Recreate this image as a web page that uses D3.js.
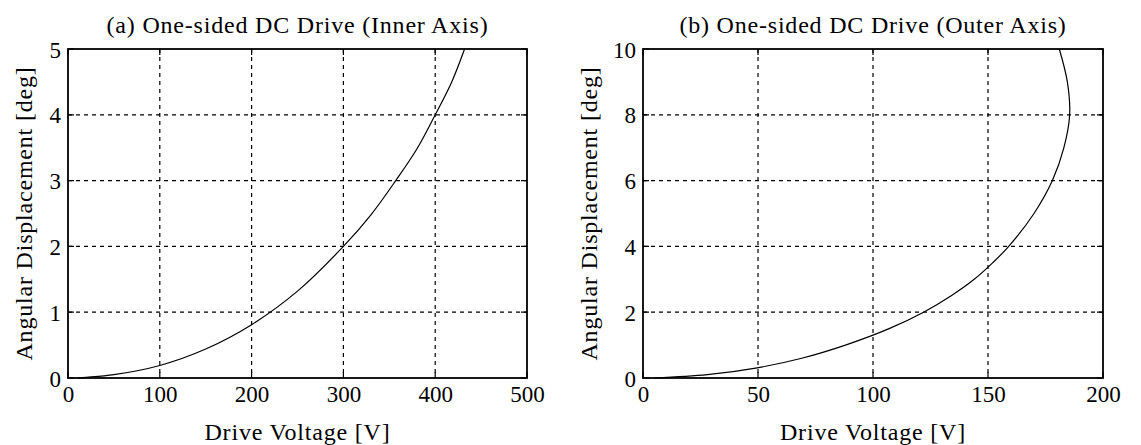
<!DOCTYPE html>
<meta charset="utf-8">
<html>
<script src="https://d3js.org/d3.v7.min.js"></script>
<style>
    body { margin: 0; background: #fff; }
    svg text { fill: #000; }
</style>
<body>
<div id="chart"></div>
<script>
    // (a) inner axis: voltage read at each angle
    var innerVoltage = [10, 20, 50, 100, 150, 200, 250, 300, 330, 357, 380, 400, 418, 432];
    var innerAngle   = [0, 0.01, 0.05, 0.19, 0.44, 0.81, 1.32, 2.0, 2.48, 3.0, 3.48, 4.0, 4.5, 5.0];

    // (b) outer axis: curve turns back past pull-in
    var outerVoltage = [5, 28, 49, 69, 88, 107, 122, 134, 144, 152, 159, 170, 178, 183, 185.5, 184.5, 181];
    var outerAngle   = [0, 0.1, 0.3, 0.6, 1.0, 1.5, 2.0, 2.5, 3.0, 3.5, 4.0, 5.0, 6.0, 7.0, 8.0, 9.0, 10.0];

    var innerXTicks = [0, 100, 200, 300, 400, 500];
    var innerYTicks = [0, 1, 2, 3, 4, 5];
    var outerXTicks = [0, 50, 100, 150, 200];
    var outerYTicks = [0, 2, 4, 6, 8, 10];

    var W = 1141, H = 445;
    var serif = "Liberation Serif, DejaVu Serif, serif";
    var svg = d3.select("#chart").append("svg")
        .attr("width", W)
        .attr("height", H);

    function panel(opts) {
        var x = d3.scaleLinear().domain(opts.xDomain).range([opts.left, opts.right]);
        var y = d3.scaleLinear().domain(opts.yDomain).range([opts.bottom, opts.top]);
        var g = svg.append("g");

        // dashed grid
        g.selectAll(".gx").data(opts.xTicks.slice(1, -1)).enter().append("line")
            .attr("x1", function (d) { return x(d); }).attr("x2", function (d) { return x(d); })
            .attr("y1", opts.top).attr("y2", opts.bottom)
            .attr("stroke", "#000").attr("stroke-width", 1.2)
            .attr("stroke-dasharray", "4,4");
        g.selectAll(".gy").data(opts.yTicks.slice(1, -1)).enter().append("line")
            .attr("y1", function (d) { return y(d); }).attr("y2", function (d) { return y(d); })
            .attr("x1", opts.left).attr("x2", opts.right)
            .attr("stroke", "#000").attr("stroke-width", 1.2)
            .attr("stroke-dasharray", "4,4");

        // tick labels via axes
        var ax = g.append("g")
            .attr("transform", "translate(0," + opts.bottom + ")")
            .call(d3.axisBottom(x).tickValues(opts.xTicks).tickFormat(d3.format("d")).tickSize(0).tickPadding(8));
        var ay = g.append("g")
            .attr("transform", "translate(" + opts.left + ",0)")
            .call(d3.axisLeft(y).tickValues(opts.yTicks).tickFormat(d3.format("d")).tickSize(0).tickPadding(7));
        [ax, ay].forEach(function (a) {
            a.attr("font-family", serif).attr("font-size", 23);
            a.select(".domain").remove();
            a.selectAll("text").attr("fill", "#000");
        });
        ay.selectAll("text").attr("dy", "0.35em");

        // inward ticks on all four sides
        var tl = 6;
        g.selectAll(".tb").data(opts.xTicks).enter().append("path")
            .attr("d", function (d) {
                return "M" + x(d) + "," + opts.bottom + "v" + (-tl) + "M" + x(d) + "," + opts.top + "v" + tl;
            })
            .attr("stroke", "#000").attr("stroke-width", 1.2);
        g.selectAll(".tl").data(opts.yTicks).enter().append("path")
            .attr("d", function (d) {
                return "M" + opts.left + "," + y(d) + "h" + tl + "M" + opts.right + "," + y(d) + "h" + (-tl);
            })
            .attr("stroke", "#000").attr("stroke-width", 1.2);

        // curve
        var pts = opts.xs.map(function (v, i) { return [v, opts.ys[i]]; });
        g.append("path")
            .datum(pts)
            .attr("fill", "none")
            .attr("stroke", "#000")
            .attr("stroke-width", 1.2)
            .attr("d", d3.line()
                .curve(d3.curveCatmullRom.alpha(0.5))
                .x(function (d) { return x(d[0]); })
                .y(function (d) { return y(d[1]); }));

        // frame
        g.append("rect")
            .attr("x", opts.left).attr("y", opts.top)
            .attr("width", opts.right - opts.left).attr("height", opts.bottom - opts.top)
            .attr("fill", "none").attr("stroke", "#000").attr("stroke-width", 1.8);

        // titles
        function label(t) {
            return t.attr("font-family", serif).attr("text-anchor", "middle")
                .attr("font-size", 24).attr("letter-spacing", 0.8);
        }
        label(g.append("text")
            .attr("x", (opts.left + opts.right) / 2).attr("y", 33))
            .text(opts.title);
        label(g.append("text")
            .attr("x", (opts.left + opts.right) / 2).attr("y", 440))
            .text("Drive Voltage [V]");
        label(g.append("text")
            .attr("transform", "translate(" + opts.ylabX + "," + ((opts.top + opts.bottom) / 2) + ") rotate(-90)"))
            .text("Angular Displacement [deg]");
    }

    panel({
        left: 68, right: 527, top: 49, bottom: 378, ylabX: 32,
        xDomain: [0, 500], yDomain: [0, 5],
        xTicks: innerXTicks, yTicks: innerYTicks,
        xs: innerVoltage, ys: innerAngle,
        title: "(a) One-sided DC Drive (Inner Axis)"
    });
    panel({
        left: 643, right: 1103, top: 49, bottom: 378, ylabX: 597,
        xDomain: [0, 200], yDomain: [0, 10],
        xTicks: outerXTicks, yTicks: outerYTicks,
        xs: outerVoltage, ys: outerAngle,
        title: "(b) One-sided DC Drive (Outer Axis)"
    });
</script>
</body>
</html>
